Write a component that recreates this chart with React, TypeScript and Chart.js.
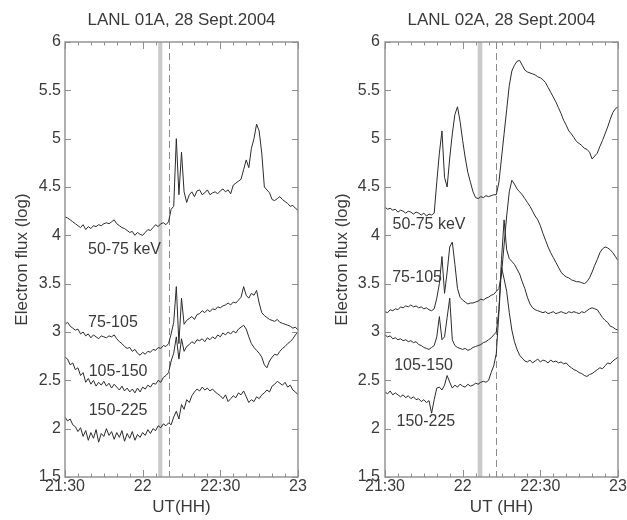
import React, { useEffect, useRef } from "react";
import { Chart, registerables } from "chart.js";

Chart.register(...registerables);

// ---------- data ----------
const minutes = [
  0, 1, 2, 3, 4, 5, 6, 7, 8, 9, 10, 11, 12, 13, 14, 15, 16, 17, 18, 19,
  20, 21, 22, 23, 24, 25, 26, 27, 28, 29, 30, 31, 32, 33, 34, 35, 36, 37, 38, 39,
  40, 41, 42, 43, 44, 45, 46, 47, 48, 49, 50, 51, 52, 53, 54, 55, 56, 57, 58, 59,
  60, 61, 62, 63, 64, 65, 66, 67, 68, 69, 70, 71, 72, 73, 74, 75, 76, 77, 78, 79,
  80, 81, 82, 83, 84, 85, 86, 87, 88, 89, 90,
];
const xTickValues = [0, 30, 60, 90];
const xTickLabels = ["21:30", "22", "22:30", "23"];
const seriesNames = ["50-75 keV", "75-105", "105-150", "150-225"];

// LANL 01A
const a50 = [
  4.19, 4.18, 4.16, 4.14, 4.12, 4.1, 4.08, 4.11, 4.06, 4.09,
  4.07, 4.1, 4.09, 4.11, 4.1, 4.12, 4.13, 4.12, 4.14, 4.16,
  4.12, 4.1, 4.08, 4.07, 4.05, 4.03, 4.04, 4.0, 4.03, 4.01,
  4.0, 4.03, 4.06, 4.05, 4.08, 4.11, 4.09, 4.12, 4.13, 4.11,
  4.14, 4.27, 4.3, 5.0, 4.42, 4.86, 4.45, 4.34, 4.42, 4.45,
  4.4, 4.46, 4.47, 4.42, 4.44, 4.47, 4.42, 4.44, 4.45, 4.43,
  4.46, 4.48, 4.45, 4.47, 4.43, 4.52, 4.54, 4.56, 4.58, 4.68,
  4.78, 4.7, 4.9, 5.0, 5.15, 5.08, 4.85, 4.5, 4.47, 4.44,
  4.37, 4.36, 4.38, 4.4, 4.37, 4.35, 4.33, 4.3, 4.31, 4.28, 4.26,
];
const a75 = [
  3.08, 3.1, 3.06, 3.04, 3.02, 3.03, 2.98, 3.0, 2.96, 2.98,
  2.94, 2.97, 2.95, 2.93, 2.96, 2.95, 2.94, 2.96, 2.95, 2.97,
  2.93, 2.9, 2.88, 2.85, 2.83, 2.84, 2.8, 2.82, 2.78, 2.76,
  2.79, 2.77, 2.8, 2.79, 2.82, 2.81, 2.84, 2.83, 2.86, 2.85,
  2.88, 2.98, 3.1, 3.47, 2.88, 3.35, 3.08, 3.12, 3.14, 3.16,
  3.13, 3.18, 3.19, 3.22, 3.2, 3.23, 3.21, 3.24, 3.23, 3.26,
  3.25, 3.27, 3.28, 3.3, 3.28, 3.31, 3.3, 3.33, 3.36, 3.47,
  3.38, 3.35, 3.4, 3.38, 3.43, 3.3, 3.2, 3.17, 3.15, 3.13,
  3.12, 3.11, 3.13, 3.1, 3.09, 3.08, 3.07, 3.06, 3.04, 3.05, 3.02,
];
const a105 = [
  2.74, 2.72, 2.66, 2.68, 2.61, 2.63, 2.55, 2.58, 2.48, 2.52,
  2.46, 2.5, 2.44, 2.48, 2.45, 2.49, 2.44, 2.47, 2.42, 2.46,
  2.43, 2.4, 2.44, 2.39, 2.42, 2.38, 2.41, 2.37, 2.42, 2.38,
  2.43, 2.41, 2.45, 2.43, 2.47, 2.46, 2.5, 2.48, 2.53, 2.55,
  2.58, 2.7, 2.78, 2.95, 2.72, 2.93, 2.8, 2.85, 2.87, 2.9,
  2.88, 2.92, 2.91, 2.93, 2.9, 2.94, 2.92, 2.95, 2.93, 2.97,
  2.95, 2.99, 2.97, 3.0, 2.98, 3.01, 2.99, 3.03, 3.05, 3.07,
  3.03, 2.95, 2.88, 2.84, 2.81, 2.78, 2.74, 2.66, 2.63, 2.7,
  2.74, 2.77, 2.76, 2.8, 2.83, 2.85, 2.88, 2.9, 2.93, 2.97, 3.0,
];
const a150 = [
  2.12, 2.08, 2.1, 2.04, 2.02, 1.97, 2.01, 1.92, 1.98, 1.88,
  1.96, 1.9, 1.99, 1.86, 1.95, 1.92, 2.0, 1.93, 1.97, 1.89,
  1.96, 1.91, 1.98, 1.87, 1.95, 1.9, 1.97, 1.88, 1.94, 1.91,
  1.96, 1.93, 1.99, 1.95, 2.0, 1.98, 2.03, 2.01, 2.05, 2.03,
  2.06, 2.04, 2.12, 2.18, 2.1, 2.25, 2.2, 2.3, 2.27, 2.34,
  2.38, 2.41, 2.39, 2.43, 2.4, 2.42, 2.39, 2.41, 2.38, 2.36,
  2.34, 2.31, 2.35, 2.28, 2.31, 2.34, 2.32, 2.37, 2.35, 2.39,
  2.33, 2.27, 2.3, 2.28, 2.33, 2.31, 2.35, 2.37, 2.4, 2.38,
  2.44, 2.46, 2.49, 2.47, 2.45, 2.48, 2.43, 2.45, 2.4, 2.38, 2.35,
];

// LANL 02A
const b50 = [
  4.29, 4.27, 4.28, 4.26, 4.27, 4.24, 4.26, 4.25, 4.23, 4.25,
  4.24, 4.22, 4.24, 4.23, 4.21, 4.23, 4.2, 4.22, 4.21, 4.23,
  4.55, 4.85, 5.08, 4.6, 4.5, 4.8, 5.05, 5.25, 5.33, 5.18,
  4.98, 4.8, 4.65, 4.55, 4.45, 4.39, 4.38, 4.4, 4.39, 4.41,
  4.4, 4.41, 4.42, 4.42, 4.55, 4.8, 5.05, 5.3, 5.55, 5.7,
  5.76, 5.8, 5.81, 5.76, 5.71, 5.69, 5.68, 5.67, 5.66, 5.64,
  5.63, 5.61, 5.58, 5.53, 5.48, 5.43, 5.38, 5.32, 5.26, 5.19,
  5.14, 5.08, 5.05, 5.01, 4.97, 4.95, 4.93, 4.9, 4.89, 4.86,
  4.79, 4.82, 4.85, 4.92, 4.98, 5.05, 5.12, 5.2, 5.27, 5.31, 5.33,
];
const b75 = [
  3.21, 3.2, 3.23, 3.22, 3.24, 3.23, 3.26, 3.25, 3.27, 3.26,
  3.28, 3.26, 3.27, 3.25, 3.26, 3.24, 3.25, 3.23, 3.22, 3.24,
  3.35, 3.5, 3.78, 3.4, 3.62, 3.88, 3.93, 3.7, 3.45, 3.36,
  3.33, 3.31, 3.29, 3.3, 3.3, 3.31, 3.32, 3.34, 3.33, 3.35,
  3.36, 3.38, 3.39, 3.42, 3.45, 3.6, 3.9, 4.2, 4.45, 4.57,
  4.53, 4.48, 4.45, 4.42, 4.38, 4.34, 4.3, 4.25, 4.2, 4.16,
  4.1, 4.02, 3.95, 3.88, 3.82, 3.77, 3.72, 3.67, 3.62, 3.59,
  3.57, 3.56, 3.54, 3.53, 3.52, 3.52, 3.51, 3.5, 3.52, 3.56,
  3.62, 3.69, 3.75, 3.82, 3.86, 3.88, 3.87, 3.85, 3.82, 3.78, 3.74,
];
const b105 = [
  2.97, 2.95, 2.96, 2.93, 2.94, 2.92, 2.93, 2.91, 2.92, 2.9,
  2.91, 2.89, 2.9, 2.87, 2.86, 2.84, 2.83, 2.82, 2.84, 2.86,
  2.95, 3.16, 2.92, 2.95, 3.15, 3.35, 2.92, 2.86, 2.84, 2.83,
  2.82, 2.83, 2.81, 2.82, 2.84, 2.85, 2.86, 2.87, 2.89, 2.9,
  2.92, 2.94, 2.97, 3.0, 3.23, 3.75, 4.16, 3.85, 3.76, 3.73,
  3.7, 3.65, 3.6, 3.52, 3.45, 3.36, 3.29, 3.25, 3.23, 3.22,
  3.21, 3.2, 3.21, 3.19, 3.2, 3.21, 3.19, 3.2, 3.21, 3.2,
  3.19, 3.21, 3.2, 3.21, 3.2, 3.19, 3.21, 3.2, 3.22, 3.24,
  3.25, 3.24, 3.23, 3.19, 3.15, 3.12, 3.1, 3.06, 3.05, 3.03, 3.02,
];
const b150 = [
  2.38, 2.36, 2.39, 2.35, 2.37, 2.35, 2.33, 2.35, 2.32, 2.34,
  2.31, 2.33, 2.3, 2.31, 2.28, 2.3, 2.27, 2.29, 2.16, 2.3,
  2.42, 2.43, 2.4, 2.45, 2.55, 2.48, 2.42, 2.45, 2.43, 2.46,
  2.44, 2.43, 2.46, 2.44, 2.45, 2.47, 2.46, 2.48, 2.49, 2.48,
  2.5, 2.58, 2.65, 2.78, 3.2, 3.67, 3.55, 3.42, 3.2, 3.02,
  2.9, 2.82, 2.76, 2.73, 2.7, 2.69, 2.71, 2.68, 2.7, 2.72,
  2.69, 2.71, 2.7, 2.68, 2.71, 2.69, 2.7, 2.68, 2.69, 2.67,
  2.68, 2.65, 2.63, 2.61, 2.6, 2.58, 2.57, 2.55, 2.54, 2.56,
  2.57, 2.59, 2.61, 2.63, 2.62, 2.65, 2.68, 2.67, 2.7, 2.72, 2.74,
];

// marker positions (minutes after 21:30)
const bandA = [36.0, 37.6];
const dashA = 40.3;
const bandB = [35.8, 37.6];
const dashB = 42.7;

// curve label anchors (data units)
const labelMinA = [23.0, 18.5, 20.5, 20.5];
const labelFluxA = [3.85, 3.1, 2.59, 2.19];
const labelMinB = [17.0, 12.4, 14.9, 15.8];
const labelFluxB = [4.11, 3.56, 2.65, 2.07];

// ---------- styling ----------
const FONT = "'Liberation Sans', Arial, Helvetica, sans-serif";
const TEXT = "#3a3a3a";
const AXIS = "#8e8e8e";
const LINE = "#2b2b2b";
const MINOR_STEP = 5;

const decorPlugin = {
  id: "decor",
  beforeDatasetsDraw(chart: any, _args: any, opts: any) {
    const { ctx, chartArea: a } = chart;
    const x = chart.scales.x;
    ctx.save();
    const b0 = x.getPixelForValue(opts.band[0]);
    const b1 = x.getPixelForValue(opts.band[1]);
    ctx.fillStyle = "#cacaca";
    ctx.fillRect(b0, a.top, b1 - b0, a.bottom - a.top);
    const dx = Math.round(x.getPixelForValue(opts.dash)) + 0.5;
    ctx.strokeStyle = "#8a8a8a";
    ctx.lineWidth = 1;
    ctx.setLineDash([7, 4]);
    ctx.beginPath();
    ctx.moveTo(dx, a.top);
    ctx.lineTo(dx, a.bottom);
    ctx.stroke();
    ctx.restore();
  },
  afterDatasetsDraw(chart: any, _args: any, opts: any) {
    const { ctx, chartArea: a } = chart;
    const x = chart.scales.x;
    const y = chart.scales.y;
    ctx.save();
    ctx.strokeStyle = AXIS;
    ctx.lineWidth = 1.4;
    ctx.strokeRect(a.left, a.top, a.right - a.left, a.bottom - a.top);
    ctx.lineWidth = 1;
    ctx.beginPath();
    y.ticks.forEach((t: any) => {
      const py = Math.round(y.getPixelForValue(t.value)) + 0.5;
      ctx.moveTo(a.left, py);
      ctx.lineTo(a.left + 6, py);
      ctx.moveTo(a.right, py);
      ctx.lineTo(a.right - 6, py);
    });
    for (let m = x.min; m <= x.max; m += MINOR_STEP) {
      const px = Math.round(x.getPixelForValue(m)) + 0.5;
      const len = xTickValues.includes(m) ? 7 : 3.5;
      ctx.moveTo(px, a.bottom);
      ctx.lineTo(px, a.bottom - len);
      ctx.moveTo(px, a.top);
      ctx.lineTo(px, a.top + len);
    }
    ctx.stroke();
    ctx.fillStyle = TEXT;
    ctx.font = `16px ${FONT}`;
    ctx.textAlign = "center";
    ctx.textBaseline = "middle";
    seriesNames.forEach((name, i) => {
      ctx.fillText(
        name,
        x.getPixelForValue(opts.labelMin[i]),
        y.getPixelForValue(opts.labelFlux[i])
      );
    });
    ctx.restore();
  },
};

type Panel = {
  title: string;
  xTitle: string;
  series: number[][];
  band: number[];
  dash: number;
  labelMin: number[];
  labelFlux: number[];
  yAxisWidth: number;
  yTitlePad: number;
  yTickPad: number;
  padRight: number;
};

function makeConfig(p: Panel): any {
  return {
    type: "line",
    data: {
      datasets: p.series.map((vals, i) => ({
        label: seriesNames[i],
        data: minutes.map((m, j) => ({ x: m, y: vals[j] })),
        borderColor: LINE,
        borderWidth: 1,
        pointRadius: 0,
        tension: 0,
        fill: false,
      })),
    },
    options: {
      responsive: false,
      animation: false,
      devicePixelRatio: 1,
      layout: { padding: { left: 0, right: p.padRight, top: 0, bottom: 0 } },
      plugins: {
        legend: { display: false },
        tooltip: { enabled: false },
        title: {
          display: true,
          text: p.title,
          fullSize: false,
          color: TEXT,
          font: { family: FONT, size: 17, weight: "normal", lineHeight: 1.2 },
          padding: { top: 10, bottom: 11.6 },
        },
        decor: {
          band: p.band,
          dash: p.dash,
          labelMin: p.labelMin,
          labelFlux: p.labelFlux,
        },
      },
      scales: {
        x: {
          type: "linear",
          min: 0,
          max: 90,
          grid: { display: false, drawTicks: false },
          border: { display: false },
          afterBuildTicks: (s: any) => {
            s.ticks = xTickValues.map((v) => ({ value: v }));
          },
          ticks: {
            color: TEXT,
            font: { family: FONT, size: 16 },
            padding: 0,
            maxRotation: 0,
            autoSkip: false,
            callback: (v: number) => {
              const i = xTickValues.indexOf(v);
              return i >= 0 ? xTickLabels[i] : "";
            },
          },
          title: {
            display: true,
            text: p.xTitle,
            color: TEXT,
            font: { family: FONT, size: 17, lineHeight: 1.2 },
            padding: { top: 0, bottom: 2 },
          },
          afterFit: (s: any) => {
            s.height = 43;
            s.paddingLeft = 0;
            s.paddingRight = 0;
          },
        },
        y: {
          type: "linear",
          min: 1.5,
          max: 6,
          grid: { display: false, drawTicks: false },
          border: { display: false },
          ticks: {
            stepSize: 0.5,
            color: TEXT,
            font: { family: FONT, size: 16 },
            padding: p.yTickPad,
            callback: (v: number) => String(v),
          },
          title: {
            display: true,
            text: "Electron flux (log)",
            color: TEXT,
            font: { family: FONT, size: 17, lineHeight: 1.2 },
            padding: { top: p.yTitlePad, bottom: 0 },
          },
          afterFit: (s: any) => {
            s.width = p.yAxisWidth;
            s.paddingTop = 0;
            s.paddingBottom = 0;
          },
        },
      },
    },
    plugins: [decorPlugin],
  };
}

const panelA: Panel = {
  title: "LANL 01A, 28 Sept.2004",
  xTitle: "UT(HH)",
  series: [a50, a75, a105, a150],
  band: bandA,
  dash: dashA,
  labelMin: labelMinA,
  labelFlux: labelFluxA,
  yAxisWidth: 65,
  yTitlePad: 11.8,
  yTickPad: 4,
  padRight: 15,
};

const panelB: Panel = {
  title: "LANL 02A, 28 Sept.2004",
  xTitle: "UT (HH)",
  series: [b50, b75, b105, b150],
  band: bandB,
  dash: dashB,
  labelMin: labelMinB,
  labelFlux: labelFluxB,
  yAxisWidth: 72,
  yTitlePad: 18.8,
  yTickPad: 5,
  padRight: 9,
};

function PanelChart({ panel, left, width }: { panel: Panel; left: number; width: number }) {
  const ref = useRef<HTMLCanvasElement | null>(null);
  useEffect(() => {
    if (!ref.current) return;
    const chart = new Chart(ref.current, makeConfig(panel));
    return () => chart.destroy();
  }, [panel]);
  return (
    <canvas
      ref={ref}
      width={width}
      height={520}
      style={{ position: "absolute", left, top: 0, width, height: 520, display: "block" }}
    />
  );
}

export default function App() {
  return (
    <div
      style={{
        position: "fixed",
        left: 0,
        top: 0,
        width: 627,
        height: 520,
        background: "#ffffff",
        overflow: "hidden",
      }}
    >
      <PanelChart panel={panelA} left={0} width={313} />
      <PanelChart panel={panelB} left={313} width={314} />
    </div>
  );
}
